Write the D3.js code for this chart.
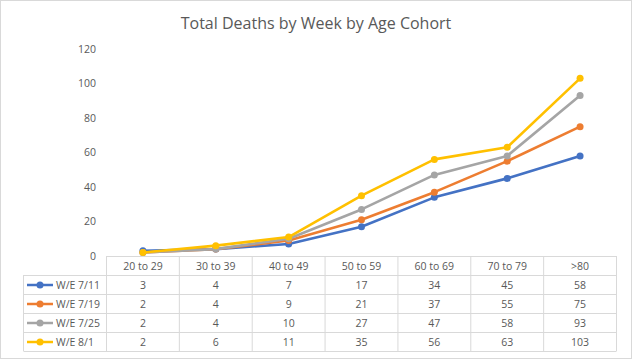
<!DOCTYPE html>
<html><head><meta charset="utf-8">
<script src="https://cdn.jsdelivr.net/npm/d3@7"></script>
<style>body{margin:0;background:#fff}svg{display:block;font-family:"Open Sans","Noto Sans",sans-serif}</style>
</head><body><svg id="c" width="632" height="359"></svg>
<script>
const categories = ["20 to 29","30 to 39","40 to 49","50 to 59","60 to 69","70 to 79",">80"];
const seriesNames = ["W/E 7/11","W/E 7/19","W/E 7/25","W/E 8/1"];
const we711 = [3,4,7,17,34,45,58];
const we719 = [2,4,9,21,37,55,75];
const we725 = [2,4,10,27,47,58,93];
const we801 = [2,6,11,35,56,63,103];
const yTicks = [0,20,40,60,80,100,120];
const colors = ["#4472C4","#ED7D31","#A5A5A5","#FFC000"];
const series = [we711,we719,we725,we801].map((v,i)=>({name:seriesNames[i],values:v,color:colors[i]}));

(function(){
const svg = d3.select("#c");
svg.append("rect").attr("x",0.5).attr("y",0.5).attr("width",631).attr("height",358)
  .attr("fill","#fff").attr("stroke","#d9d9d9");

svg.append("text").attr("x",316).attr("y",28.5).attr("text-anchor","middle")
  .attr("font-size",16).attr("fill","#595959").text("Total Deaths by Week by Age Cohort");

const pLeft=106.5, pRight=616.5, pTop=49, pBottom=256;
const x = d3.scaleBand().domain(categories).range([pLeft,pRight]);
const y = d3.scaleLinear().domain([0,120]).range([pBottom,pTop]);

const yAxis = d3.axisLeft(y).tickValues(yTicks).tickSize(0).tickPadding(0);
const ya = svg.append("g").attr("transform","translate(96,0)").call(yAxis);
ya.select(".domain").remove();
ya.selectAll("text").attr("font-size",10.5).attr("fill","#595959").attr("font-family","Open Sans, Noto Sans, sans-serif");

const rowH = 19, tableTop = 256, legLeft = 23.5;
const g = svg.append("g");
const gridCol="#d9d9d9";
g.append("line").attr("x1",pLeft).attr("x2",pRight).attr("y1",tableTop+0.5).attr("y2",tableTop+0.5).attr("stroke",gridCol);
categories.forEach(c=>{
  g.append("text").attr("x",x(c)+x.bandwidth()/2).attr("y",tableTop+rowH/2+4)
   .attr("text-anchor","middle").attr("font-size",10.5).attr("fill","#595959").text(c);
});
categories.concat(["_end"]).forEach((c,i)=>{
  const xx = i<categories.length? x(c): pRight;
  g.append("line").attr("x1",xx).attr("x2",xx).attr("y1",tableTop).attr("y2",tableTop+rowH*5).attr("stroke",gridCol);
});
g.append("line").attr("x1",legLeft).attr("x2",legLeft).attr("y1",tableTop+rowH).attr("y2",tableTop+rowH*5).attr("stroke",gridCol);
for(let r=1;r<=5;r++){
  g.append("line").attr("x1",legLeft).attr("x2",pRight).attr("y1",tableTop+rowH*r+0.5).attr("y2",tableTop+rowH*r+0.5).attr("stroke",gridCol);
}
series.forEach((s,i)=>{
  const cy = tableTop+rowH*(i+1)+rowH/2+0.5;
  g.append("line").attr("x1",27).attr("x2",53).attr("y1",cy).attr("y2",cy).attr("stroke",s.color).attr("stroke-width",2.5);
  g.append("circle").attr("cx",40).attr("cy",cy).attr("r",3.5).attr("fill",s.color);
  g.append("text").attr("x",56).attr("y",cy+4).attr("font-size",10.5).attr("fill","#595959").text(s.name);
  s.values.forEach((v,j)=>{
    g.append("text").attr("x",x(categories[j])+x.bandwidth()/2).attr("y",cy+4)
     .attr("text-anchor","middle").attr("font-size",10.5).attr("fill","#595959").text(v);
  });
});

const line = d3.line().x((d,j)=>x(categories[j])+x.bandwidth()/2).y(d=>y(d));
series.forEach(s=>{
  svg.append("path").datum(s.values).attr("d",line).attr("fill","none")
    .attr("stroke",s.color).attr("stroke-width",2.6).attr("stroke-linejoin","round");
  svg.selectAll(null).data(s.values).enter().append("circle")
    .attr("cx",(d,j)=>x(categories[j])+x.bandwidth()/2).attr("cy",d=>y(d)).attr("r",3.5)
    .attr("fill",s.color);
});
})();
</script></body></html>
